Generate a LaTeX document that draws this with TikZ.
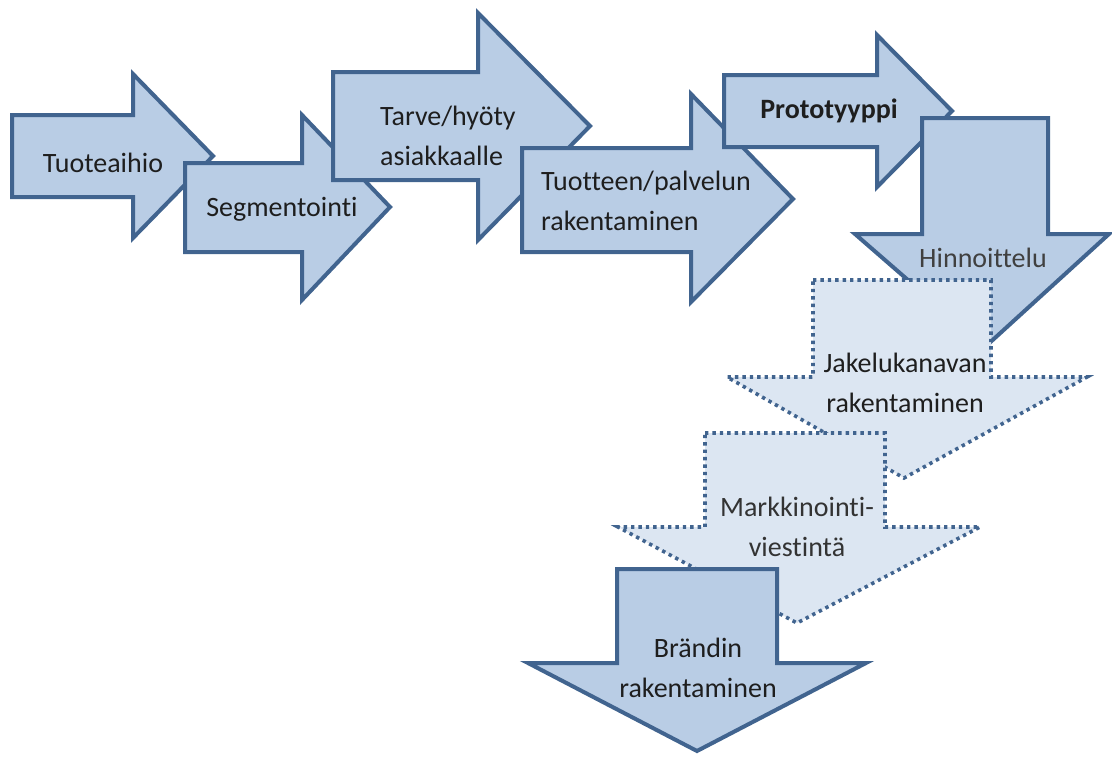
\documentclass[tikz,border=0pt]{standalone}
\usepackage{fontspec}
\setmainfont{Carlito}[Ligatures={NoCommon,NoRequired,NoContextual}]
\definecolor{arrfill}{HTML}{B9CDE5}
\definecolor{arrline}{HTML}{41648F}
\definecolor{dotfill}{HTML}{DCE6F2}
\definecolor{txt}{HTML}{1E1E1E}
\tikzset{
  solidarrow/.style={fill=arrfill, draw=arrline, line width=4pt, line join=miter},
  dotarrow/.style={fill=dotfill, draw=arrline, line width=3.6pt, dash pattern=on 3.4pt off 4pt},
  lbl/.style={text=txt, font=\fontsize{28}{40}\selectfont, inner sep=0pt, align=center},
  lbll/.style={lbl, align=left}
}
\begin{document}
\begin{tikzpicture}[x=1pt,y=-1pt]
\useasboundingbox (0,0) rectangle (1112,756);
% 1 Tuoteaihio
\draw[solidarrow] (12,115) -- (133,115) -- (133,74) -- (213,156) -- (133,238) -- (133,197) -- (12,197) -- cycle;
\node[lbl] (t1) at (103,163) {Tuoteaihio};
% 2 Segmentointi
\draw[solidarrow] (185,163) -- (302,163) -- (302,115) -- (390,207) -- (302,300) -- (302,252) -- (185,252) -- cycle;
\node[lbl] (t2) at (282,209) {Segmentointi};
% 3 Tarve/hyoty
\draw[solidarrow] (333,72) -- (478,72) -- (478,13) -- (590,126) -- (478,240) -- (478,180) -- (333,180) -- cycle;
\node[lbll, anchor=west] (t3) at (380,136) {Tarve/hyöty\\asiakkaalle};
% 4 Tuotteen/palvelun
\draw[solidarrow] (522,148) -- (691,148) -- (691,94) -- (793,199) -- (691,302) -- (691,252) -- (522,252) -- cycle;
\node[lbll, anchor=west] (t4) at (541,201) {Tuotteen/palvelun\\rakentaminen};
% 5 Prototyyppi
\draw[solidarrow] (724,75) -- (877,75) -- (877,35) -- (952,111) -- (877,187) -- (877,147) -- (724,147) -- cycle;
\node[lbl, font=\fontsize{28}{40}\selectfont\bfseries] (t5) at (829,111) {Prototyyppi};
% 6 Hinnoittelu
\draw[solidarrow] (922,118) -- (1048,118) -- (1048,234) -- (1109,234) -- (985,347) -- (855,234) -- (922,234) -- cycle;
\node[lbl, text=black!75] (t6) at (983,258) {Hinnoittelu};
% 7 Jakelukanavan
\draw[dotarrow] (813,280) -- (991,280) -- (991,377) -- (1087,377) -- (904,478) -- (727,377) -- (813,377) -- cycle;
\node[lbl] (t7) at (905,383) {Jakelukanavan\\rakentaminen};
% 8 Markkinointi
\draw[dotarrow] (705,433) -- (885,433) -- (885,527) -- (980,527) -- (797,623) -- (618,527) -- (705,527) -- cycle;
\node[lbl, text=black!80] (t8) at (797,527) {Markkinointi-\\viestintä};
% 9 Brandin
\draw[solidarrow] (617,569) -- (777,569) -- (777,663) -- (866,663) -- (697,751) -- (528,663) -- (617,663) -- cycle;
\node[lbl] (t9) at (698,668) {Brändin\\rakentaminen};
\end{tikzpicture}
\end{document}
